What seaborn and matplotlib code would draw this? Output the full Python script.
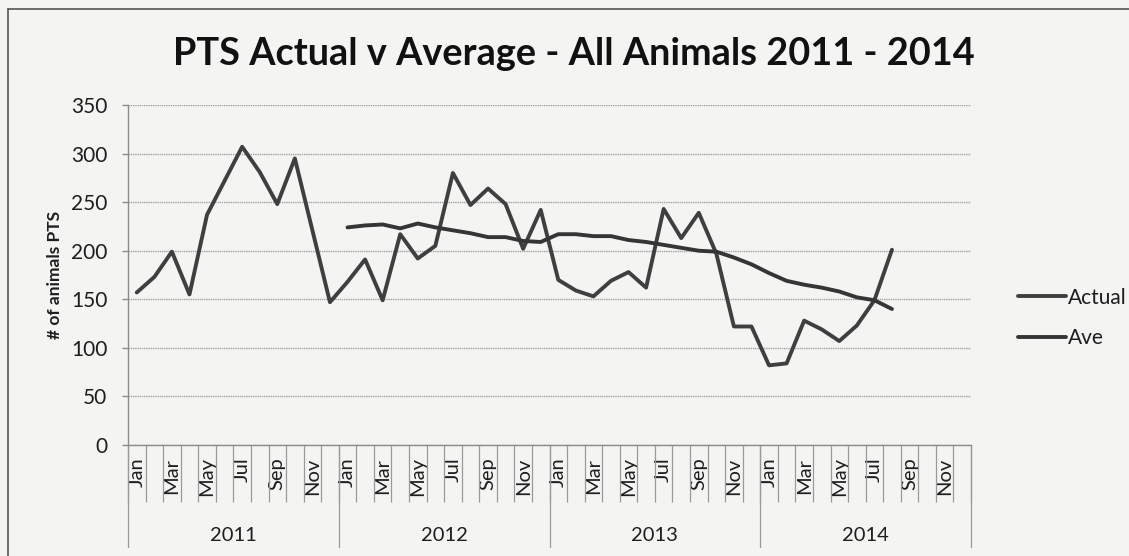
import matplotlib
matplotlib.use("Agg")
import matplotlib.pyplot as plt
import numpy as np
import pandas as pd
import seaborn as sns

# data
months = ["Jan", "Feb", "Mar", "Apr", "May", "Jun",
          "Jul", "Aug", "Sep", "Oct", "Nov", "Dec"]
years = ["2011", "2012", "2013", "2014"]

actual = [157, 173, 199, 155, 237, 272, 307, 281, 248, 295, 221, 147,
          168, 191, 149, 217, 192, 205, 280, 247, 264, 248, 202, 242,
          170, 159, 153, 169, 178, 162, 243, 213, 239, 197, 122, 122,
          82, 84, 128, 119, 107, 123, 149, 201]
ave = [224, 226, 227, 223, 228, 224, 221, 218, 214, 214, 210, 209,
       217, 217, 215, 215, 211, 209, 206, 203, 200, 199, 193, 186,
       177, 169, 165, 162, 158, 152, 149, 140]
ave_start = 12  # average series starts Jan 2012

n = len(months) * len(years)
rows = []
for i, v in enumerate(actual):
    rows.append({"idx": i, "value": v, "series": "Actual"})
for i, v in enumerate(ave):
    rows.append({"idx": ave_start + i, "value": v, "series": "Ave"})
df = pd.DataFrame(rows)

sns.set_theme(style="white")
plt.rcParams["font.family"] = ["Lato", "DejaVu Sans"]

bg = "#f4f4f3"
grid_c = "#a3a3a3"
line_c = {"Actual": "#3f3f3f", "Ave": "#353535"}
text_c = "#1e1e1e"

fig = plt.figure(figsize=(11.29, 5.56), dpi=100, facecolor=bg)
W, H = 1129, 556
x0, x1, y0, y1 = 128, 971, 105, 445
ax = fig.add_axes([x0 / W, 1 - y1 / H, (x1 - x0) / W, (y1 - y0) / H])
ax.set_facecolor(bg)

sns.lineplot(data=df, x="idx", y="value", hue="series", palette=line_c,
             linewidth=2.8, ax=ax, legend=True, sort=True, estimator=None)

ax.set_xlim(-0.5, n - 0.5)
ax.set_ylim(0, 350)
ax.set_yticks(np.arange(0, 351, 50))
ax.yaxis.grid(True, color=grid_c, linewidth=1.0, linestyle=(0, (1, 0.6)))
ax.set_axisbelow(True)
for s in ["top", "right"]:
    ax.spines[s].set_visible(False)
for s in ["left", "bottom"]:
    ax.spines[s].set_color("#8c8c8c")
    ax.spines[s].set_linewidth(1.0)

ax.tick_params(axis="y", which="major", direction="out", length=4.3, width=1,
               color="#8c8c8c", labelsize=15, labelcolor=text_c, pad=10.5, left=True)

# month labels on every other category
xt = list(range(0, n, 2))
ax.set_xticks(xt)
ax.set_xticklabels([months[i % 12] for i in xt], rotation=90, fontsize=14.5,
                   color=text_c)
ax.tick_params(axis="x", which="major", length=0, pad=9)
ax.set_xticks(np.arange(-0.5, n, 1), minor=True)
ax.tick_params(axis="x", which="minor", direction="out", length=41, width=0.9,
               color="#9a9a9a", bottom=True)

# year dividers and labels
trans = ax.get_xaxis_transform()
for k in range(len(years) + 1):
    ax.plot([12 * k - 0.5, 12 * k - 0.5], [0, -0.30], transform=trans,
            color="#9a9a9a", linewidth=0.9, clip_on=False)
for k, yr in enumerate(years):
    ax.text(12 * k + 5.5, -0.265, yr, transform=trans, ha="center",
            va="center", fontsize=14.5, color=text_c)

ax.set_xlabel("")
ax.set_ylabel("# of animals PTS", fontsize=12.5, fontweight="bold",
              color=text_c)
ax.yaxis.set_label_coords(-(x0 - 55) / (x1 - x0), 0.5)
ax.yaxis.label.set_va("center")

fig.text(574 / W, 1 - 54 / H, "PTS Actual v Average - All Animals 2011 - 2014",
         ha="center", va="center", fontsize=27.3, fontweight="bold",
         color="#111111")

handles, labels = ax.get_legend_handles_labels()
ax.legend(handles, labels, loc="center left",
          bbox_to_anchor=(999 / W, 1 - 318 / H), bbox_transform=fig.transFigure,
          frameon=False, fontsize=15, handlelength=2.3, handletextpad=0.1,
          labelspacing=1.0, labelcolor=text_c)

# outer chart border
fig.add_artist(plt.Line2D([8 / W, 8 / W], [0, 1 - 9 / H], color="#555555",
                          linewidth=1.2, transform=fig.transFigure))
fig.add_artist(plt.Line2D([8 / W, 1], [1 - 9 / H, 1 - 9 / H], color="#555555",
                          linewidth=1.2, transform=fig.transFigure))

fig.savefig("out.png", dpi=100, facecolor=bg)
